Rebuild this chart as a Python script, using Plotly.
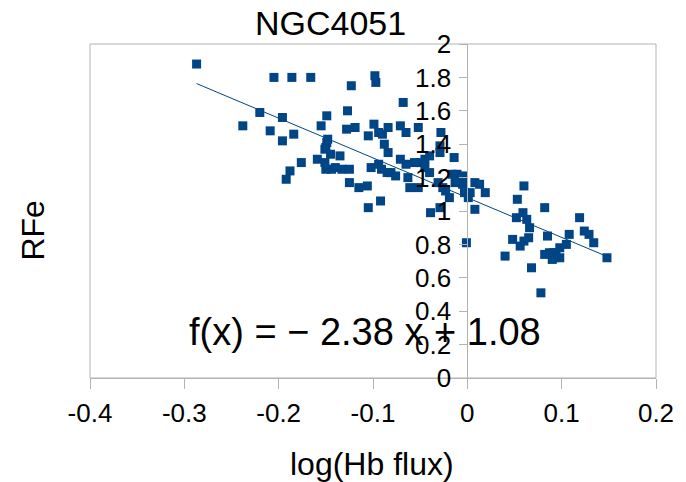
import numpy as np
import plotly.graph_objects as go

# Data
log_hb_flux = [
    -0.287, -0.238, -0.220, -0.209, -0.205, -0.196, -0.196, -0.186, -0.184, -0.188,
    -0.192, -0.176, -0.166, -0.159, -0.155, -0.149, -0.148, -0.149, -0.150, -0.151,
    -0.151, -0.150, -0.144, -0.140, -0.133, -0.125, -0.145, -0.135, -0.127, -0.128,
    -0.119, -0.123, -0.125, -0.115, -0.106, -0.105, -0.092, -0.098, -0.097, -0.099,
    -0.105, -0.094, -0.090, -0.084, -0.102, -0.094, -0.088, -0.084, -0.091, -0.085,
    -0.081, -0.076, -0.068, -0.071, -0.065, -0.052, -0.028, -0.071, -0.065, -0.056,
    -0.050, -0.045, -0.040, -0.029, -0.029, -0.014, -0.063, -0.061, -0.052, -0.045,
    -0.040, -0.031, -0.026, -0.023, -0.016, -0.013, -0.011, -0.005, -0.005, -0.039,
    -0.029, -0.019, -0.003, 0.003, 0.001, 0.008, 0.013, 0.019, 0.008, -0.001,
    0.040, 0.048, 0.052, 0.053, 0.056, 0.059, 0.060, 0.060, 0.063, 0.065,
    0.066, 0.068, 0.078, 0.082, 0.085, 0.082, 0.087, 0.091, 0.094, 0.098,
    0.092, 0.098, 0.090, 0.105, 0.108, 0.119, 0.124, 0.129, 0.134, 0.148,
]
rfe = [
    1.88, 1.51, 1.59, 1.48, 1.80, 1.56, 1.42, 1.80, 1.46, 1.24,
    1.19, 1.29, 1.80, 1.31, 1.51, 1.57, 1.43, 1.41, 1.38, 1.37,
    1.29, 1.25, 1.25, 1.26, 1.25, 1.25, 1.34, 1.33, 1.60, 1.49,
    1.50, 1.75, 1.17, 1.14, 1.15, 1.02, 1.06, 1.81, 1.77, 1.52,
    1.45, 1.47, 1.46, 1.50, 1.26, 1.28, 1.40, 1.35, 1.25, 1.23,
    1.23, 1.21, 1.65, 1.51, 1.47, 1.50, 1.47, 1.31, 1.28, 1.29,
    1.29, 1.31, 1.33, 1.35, 1.39, 1.32, 1.20, 1.14, 1.14, 1.26,
    1.23, 1.17, 1.14, 1.12, 1.22, 1.17, 1.22, 1.16, 1.21, 0.99,
    1.02, 1.08, 1.11, 1.11, 1.08, 1.17, 1.16, 1.11, 1.01, 0.81,
    0.73, 0.83, 0.96, 1.07, 0.79, 0.99, 1.15, 0.82, 0.95, 0.84,
    0.90, 0.66, 0.51, 1.02, 0.85, 0.74, 0.75, 0.75, 0.75, 0.78,
    0.72, 0.72, 0.71, 0.80, 0.86, 0.96, 0.88, 0.86, 0.81, 0.72,
]
trend_slope = -2.38
trend_intercept = 1.08
title_text = "NGC4051"
x_title = "log(Hb flux)"
y_title = "RFe"
equation_text = "f(x) = \u2212 2.38 x + 1.08"

x_ticks = [-0.4, -0.3, -0.2, -0.1, 0, 0.1, 0.2]
x_ticktext = ["-0.4", "-0.3", "-0.2", "-0.1", "0", "0.1", "0.2"]
y_ticks = [0, 0.2, 0.4, 0.6, 0.8, 1, 1.2, 1.4, 1.6, 1.8, 2]
y_ticktext = ["0", "0.2", "0.4", "0.6", "0.8", "1", "1.2", "1.4", "1.6", "1.8", "2"]

FONT = "Liberation Sans, Arial, sans-serif"
BLUE = "#004586"
GRAY = "#b3b3b3"

x_range = [-0.4, 0.2]
trend_x = np.array([min(log_hb_flux), max(log_hb_flux)])
trend_y = trend_slope * trend_x + trend_intercept

# plot area in pixels: left 90, right 662, top 44, bottom 378
L, R, T, B = 90, 662, 44, 378
PW, PH = R - L, B - T


def px(xp):
    return (xp - L) / PW


def py(yp):
    return (B - yp) / PH


fig = go.Figure()
fig.add_trace(go.Scatter(
    x=log_hb_flux, y=rfe, mode="markers",
    marker=dict(symbol="square", size=9, color=BLUE, line=dict(width=0)),
    showlegend=False, hoverinfo="skip",
))
fig.add_trace(go.Scatter(
    x=trend_x, y=trend_y, mode="lines",
    line=dict(color=BLUE, width=1),
    showlegend=False, hoverinfo="skip",
))

fig.update_layout(
    width=686, height=482,
    margin=dict(l=L, r=686 - R, t=T, b=482 - B),
    paper_bgcolor="white", plot_bgcolor="white",
    font=dict(family=FONT, color="black"),
    showlegend=False,
    xaxis=dict(
        range=x_range, tickvals=x_ticks, ticktext=x_ticktext,
        showgrid=False, zeroline=False,
        showline=True, linecolor=GRAY, linewidth=1,
        ticks="outside", ticklen=10, tickcolor=GRAY, tickwidth=1,
        tickfont=dict(family=FONT, size=26, color="black"),
        ticklabelstandoff=2,
    ),
    yaxis=dict(
        range=[0, 2], tickvals=y_ticks, ticktext=y_ticktext,
        anchor="free", position=(0 - x_range[0]) / (x_range[1] - x_range[0]),
        showgrid=False, zeroline=False,
        showline=True, linecolor=GRAY, linewidth=1,
        ticks="outside", ticklen=8, tickcolor=GRAY, tickwidth=1,
        tickfont=dict(family=FONT, size=26, color="black"),
        ticklabelstandoff=3,
    ),
    shapes=[dict(
        type="rect", xref="x domain", yref="y domain",
        x0=0, x1=1, y0=0, y1=1,
        line=dict(color=GRAY, width=1), layer="below",
    )],
    annotations=[
        dict(text=title_text, xref="paper", yref="paper", x=px(333), y=py(23),
             xanchor="center", yanchor="middle", showarrow=False,
             font=dict(family=FONT, size=34, color="black")),
        dict(text=x_title, xref="paper", yref="paper", x=px(375), y=py(464),
             xanchor="center", yanchor="middle", showarrow=False,
             font=dict(family=FONT, size=32, color="black")),
        dict(text=y_title, xref="paper", yref="paper", x=px(32), y=py(231),
             xanchor="center", yanchor="middle", showarrow=False, textangle=-90,
             font=dict(family=FONT, size=32, color="black")),
        dict(text=equation_text, xref="paper", yref="paper", x=px(368), y=py(332),
             xanchor="center", yanchor="middle", showarrow=False,
             font=dict(family=FONT, size=38, color="black")),
    ],
)

fig.write_html("out.html")
